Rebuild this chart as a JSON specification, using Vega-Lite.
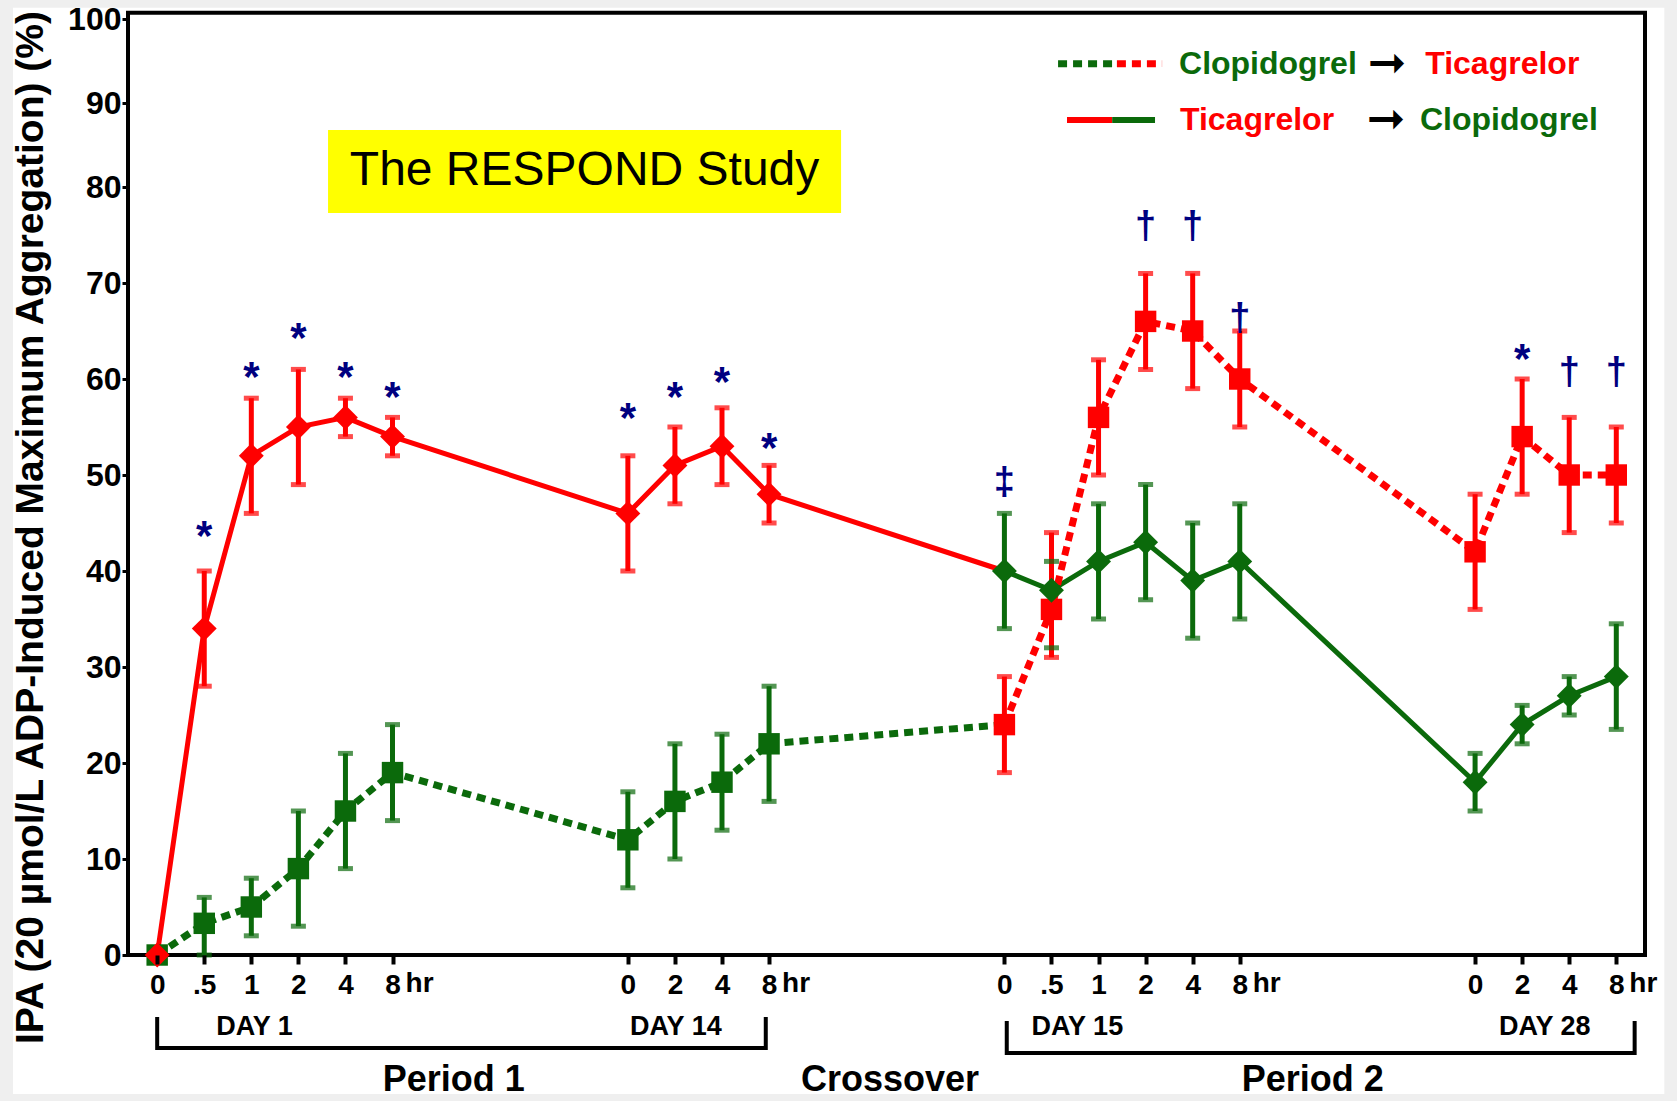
{
  "$schema": "https://vega.github.io/schema/vega-lite/v6.json",
  "width": 1517,
  "height": 942,
  "autosize": {"type": "none"},
  "padding": {"left": 128, "top": 13, "right": 32, "bottom": 146},
  "background": "#efefef",
  "config": {
    "view": {"stroke": null},
    "font": "Liberation Sans",
    "axis": {"grid": false, "domain": false, "tickColor": "black", "labelColor": "black", "labelFontWeight": "bold", "titleColor": "black", "labelFont": "Liberation Sans", "titleFont": "Liberation Sans"}
  },
  "datasets": {
    "ipa": [
      {"regimen": "Ticagrelor → Clopidogrel", "drug": "Ticagrelor", "day": 1, "hour": 0, "idx": 0, "val": 0},
      {"regimen": "Ticagrelor → Clopidogrel", "drug": "Ticagrelor", "day": 1, "hour": 0.5, "idx": 1, "val": 34, "lo": 28, "hi": 40},
      {"regimen": "Ticagrelor → Clopidogrel", "drug": "Ticagrelor", "day": 1, "hour": 1, "idx": 2, "val": 52, "lo": 46, "hi": 58},
      {"regimen": "Ticagrelor → Clopidogrel", "drug": "Ticagrelor", "day": 1, "hour": 2, "idx": 3, "val": 55, "lo": 49, "hi": 61},
      {"regimen": "Ticagrelor → Clopidogrel", "drug": "Ticagrelor", "day": 1, "hour": 4, "idx": 4, "val": 56, "lo": 54, "hi": 58},
      {"regimen": "Ticagrelor → Clopidogrel", "drug": "Ticagrelor", "day": 1, "hour": 8, "idx": 5, "val": 54, "lo": 52, "hi": 56},
      {"regimen": "Ticagrelor → Clopidogrel", "drug": "Ticagrelor", "day": 14, "hour": 0, "idx": 10, "val": 46, "lo": 40, "hi": 52},
      {"regimen": "Ticagrelor → Clopidogrel", "drug": "Ticagrelor", "day": 14, "hour": 2, "idx": 11, "val": 51, "lo": 47, "hi": 55},
      {"regimen": "Ticagrelor → Clopidogrel", "drug": "Ticagrelor", "day": 14, "hour": 4, "idx": 12, "val": 53, "lo": 49, "hi": 57},
      {"regimen": "Ticagrelor → Clopidogrel", "drug": "Ticagrelor", "day": 14, "hour": 8, "idx": 13, "val": 48, "lo": 45, "hi": 51},
      {"regimen": "Ticagrelor → Clopidogrel", "drug": "Clopidogrel", "day": 15, "hour": 0, "idx": 18, "val": 40, "lo": 34, "hi": 46},
      {"regimen": "Ticagrelor → Clopidogrel", "drug": "Clopidogrel", "day": 15, "hour": 0.5, "idx": 19, "val": 38, "lo": 32, "hi": 41},
      {"regimen": "Ticagrelor → Clopidogrel", "drug": "Clopidogrel", "day": 15, "hour": 1, "idx": 20, "val": 41, "lo": 35, "hi": 47},
      {"regimen": "Ticagrelor → Clopidogrel", "drug": "Clopidogrel", "day": 15, "hour": 2, "idx": 21, "val": 43, "lo": 37, "hi": 49},
      {"regimen": "Ticagrelor → Clopidogrel", "drug": "Clopidogrel", "day": 15, "hour": 4, "idx": 22, "val": 39, "lo": 33, "hi": 45},
      {"regimen": "Ticagrelor → Clopidogrel", "drug": "Clopidogrel", "day": 15, "hour": 8, "idx": 23, "val": 41, "lo": 35, "hi": 47},
      {"regimen": "Ticagrelor → Clopidogrel", "drug": "Clopidogrel", "day": 28, "hour": 0, "idx": 28, "val": 18, "lo": 15, "hi": 21},
      {"regimen": "Ticagrelor → Clopidogrel", "drug": "Clopidogrel", "day": 28, "hour": 2, "idx": 29, "val": 24, "lo": 22, "hi": 26},
      {"regimen": "Ticagrelor → Clopidogrel", "drug": "Clopidogrel", "day": 28, "hour": 4, "idx": 30, "val": 27, "lo": 25, "hi": 29},
      {"regimen": "Ticagrelor → Clopidogrel", "drug": "Clopidogrel", "day": 28, "hour": 8, "idx": 31, "val": 29, "lo": 23.5, "hi": 34.5},
      {"regimen": "Clopidogrel → Ticagrelor", "drug": "Clopidogrel", "day": 1, "hour": 0, "idx": 0, "val": 0},
      {"regimen": "Clopidogrel → Ticagrelor", "drug": "Clopidogrel", "day": 1, "hour": 0.5, "idx": 1, "val": 3.3, "lo": 0, "hi": 6},
      {"regimen": "Clopidogrel → Ticagrelor", "drug": "Clopidogrel", "day": 1, "hour": 1, "idx": 2, "val": 5, "lo": 2, "hi": 8},
      {"regimen": "Clopidogrel → Ticagrelor", "drug": "Clopidogrel", "day": 1, "hour": 2, "idx": 3, "val": 9, "lo": 3, "hi": 15},
      {"regimen": "Clopidogrel → Ticagrelor", "drug": "Clopidogrel", "day": 1, "hour": 4, "idx": 4, "val": 15, "lo": 9, "hi": 21},
      {"regimen": "Clopidogrel → Ticagrelor", "drug": "Clopidogrel", "day": 1, "hour": 8, "idx": 5, "val": 19, "lo": 14, "hi": 24},
      {"regimen": "Clopidogrel → Ticagrelor", "drug": "Clopidogrel", "day": 14, "hour": 0, "idx": 10, "val": 12, "lo": 7, "hi": 17},
      {"regimen": "Clopidogrel → Ticagrelor", "drug": "Clopidogrel", "day": 14, "hour": 2, "idx": 11, "val": 16, "lo": 10, "hi": 22},
      {"regimen": "Clopidogrel → Ticagrelor", "drug": "Clopidogrel", "day": 14, "hour": 4, "idx": 12, "val": 18, "lo": 13, "hi": 23},
      {"regimen": "Clopidogrel → Ticagrelor", "drug": "Clopidogrel", "day": 14, "hour": 8, "idx": 13, "val": 22, "lo": 16, "hi": 28},
      {"regimen": "Clopidogrel → Ticagrelor", "drug": "Ticagrelor", "day": 15, "hour": 0, "idx": 18, "val": 24, "lo": 19, "hi": 29},
      {"regimen": "Clopidogrel → Ticagrelor", "drug": "Ticagrelor", "day": 15, "hour": 0.5, "idx": 19, "val": 36, "lo": 31, "hi": 44},
      {"regimen": "Clopidogrel → Ticagrelor", "drug": "Ticagrelor", "day": 15, "hour": 1, "idx": 20, "val": 56, "lo": 50, "hi": 62},
      {"regimen": "Clopidogrel → Ticagrelor", "drug": "Ticagrelor", "day": 15, "hour": 2, "idx": 21, "val": 66, "lo": 61, "hi": 71},
      {"regimen": "Clopidogrel → Ticagrelor", "drug": "Ticagrelor", "day": 15, "hour": 4, "idx": 22, "val": 65, "lo": 59, "hi": 71},
      {"regimen": "Clopidogrel → Ticagrelor", "drug": "Ticagrelor", "day": 15, "hour": 8, "idx": 23, "val": 60, "lo": 55, "hi": 65},
      {"regimen": "Clopidogrel → Ticagrelor", "drug": "Ticagrelor", "day": 28, "hour": 0, "idx": 28, "val": 42, "lo": 36, "hi": 48},
      {"regimen": "Clopidogrel → Ticagrelor", "drug": "Ticagrelor", "day": 28, "hour": 2, "idx": 29, "val": 54, "lo": 48, "hi": 60},
      {"regimen": "Clopidogrel → Ticagrelor", "drug": "Ticagrelor", "day": 28, "hour": 4, "idx": 30, "val": 50, "lo": 44, "hi": 56},
      {"regimen": "Clopidogrel → Ticagrelor", "drug": "Ticagrelor", "day": 28, "hour": 8, "idx": 31, "val": 50, "lo": 45, "hi": 55}
    ],
    "signif": [
      {"idx": 1, "val": 44.7, "sym": "*"},
      {"idx": 2, "val": 61.3, "sym": "*"},
      {"idx": 3, "val": 65.3, "sym": "*"},
      {"idx": 4, "val": 61.3, "sym": "*"},
      {"idx": 5, "val": 59.2, "sym": "*"},
      {"idx": 10, "val": 57, "sym": "*"},
      {"idx": 11, "val": 59.2, "sym": "*"},
      {"idx": 12, "val": 60.7, "sym": "*"},
      {"idx": 13, "val": 53.9, "sym": "*"},
      {"idx": 18, "val": 49.2, "sym": "‡"},
      {"idx": 21, "val": 75.8, "sym": "†"},
      {"idx": 22, "val": 75.8, "sym": "†"},
      {"idx": 23, "val": 66.3, "sym": "†"},
      {"idx": 29, "val": 63.1, "sym": "*"},
      {"idx": 30, "val": 60.6, "sym": "†"},
      {"idx": 31, "val": 60.6, "sym": "†"}
    ],
    "keyLines": [
      {"regimen": "Clopidogrel → Ticagrelor", "drug": "Clopidogrel", "idx": 19.14, "idx2": 20.39, "val": 94.67},
      {"regimen": "Clopidogrel → Ticagrelor", "drug": "Ticagrelor", "idx": 20.39, "idx2": 21.35, "val": 94.67},
      {"regimen": "Ticagrelor → Clopidogrel", "drug": "Ticagrelor", "idx": 19.33, "idx2": 20.29, "val": 87.99},
      {"regimen": "Ticagrelor → Clopidogrel", "drug": "Clopidogrel", "idx": 20.29, "idx2": 21.2, "val": 87.99}
    ],
    "keyText": [
      {"label": "Clopidogrel", "drug": "Clopidogrel", "idx": 21.71, "val": 94.67},
      {"label": "Ticagrelor", "drug": "Ticagrelor", "idx": 26.94, "val": 94.67},
      {"label": "Ticagrelor", "drug": "Ticagrelor", "idx": 21.73, "val": 87.99},
      {"label": "Clopidogrel", "drug": "Clopidogrel", "idx": 26.83, "val": 87.99}
    ],
    "keyArrows": [
      {"label": "➞", "idx": 25.72, "val": 94.67},
      {"label": "➞", "idx": 25.7, "val": 87.99}
    ],
    "hourUnit": [
      {"idx": 5, "val": -3.02, "label": "hr"},
      {"idx": 13, "val": -3.02, "label": "hr"},
      {"idx": 23, "val": -3.02, "label": "hr"},
      {"idx": 31, "val": -3.02, "label": "hr"}
    ],
    "days": [
      {"idx": 2.07, "val": -7.5, "label": "DAY 1"},
      {"idx": 11.02, "val": -7.5, "label": "DAY 14"},
      {"idx": 19.55, "val": -7.5, "label": "DAY 15"},
      {"idx": 29.48, "val": -7.5, "label": "DAY 28"}
    ],
    "periods": [
      {"idx": 6.3, "val": -13.02, "label": "Period 1"},
      {"idx": 15.57, "val": -13.02, "label": "Crossover"},
      {"idx": 24.55, "val": -13.02, "label": "Period 2"}
    ],
    "brackets": [
      {"bracket": "Period 1", "ord": 1, "idx": 0, "val": -6.67},
      {"bracket": "Period 1", "ord": 2, "idx": 0, "val": -9.69},
      {"bracket": "Period 1", "ord": 3, "idx": 12.93, "val": -9.69},
      {"bracket": "Period 1", "ord": 4, "idx": 12.93, "val": -6.67},
      {"bracket": "Period 2", "ord": 1, "idx": 18.05, "val": -7.08},
      {"bracket": "Period 2", "ord": 2, "idx": 18.05, "val": -10.21},
      {"bracket": "Period 2", "ord": 3, "idx": 31.39, "val": -10.21},
      {"bracket": "Period 2", "ord": 4, "idx": 31.39, "val": -7.08}
    ]
  },
  "encoding": {
    "x": {
      "field": "idx",
      "type": "quantitative",
      "scale": {"domain": [-0.62, 31.61], "nice": false, "zero": false},
      "axis": {
        "title": null,
        "zindex": 2,
        "values": [0, 1, 2, 3, 4, 5, 10, 11, 12, 13, 18, 19, 20, 21, 22, 23, 28, 29, 30, 31],
        "labelExpr": "['0','.5','1','2','4','8','','','','','0','2','4','8','','','','','0','.5','1','2','4','8','','','','','0','2','4','8'][datum.value]",
        "labelFontSize": 28,
        "labelPadding": 7,
        "tickSize": 9,
        "tickWidth": 4,
        "labelFlush": false,
        "labelOverlap": false
      }
    },
    "y": {
      "field": "val",
      "type": "quantitative",
      "scale": {"domain": [0, 80, 100], "range": [942, 174, 6], "nice": false, "zero": false},
      "axis": {
        "title": "IPA (20 µmol/L ADP-Induced Maximum Aggregation) (%)",
        "zindex": 2,
        "orient": "left",
        "titleFontSize": 39,
        "titleFontWeight": "bold",
        "titleX": -98,
        "titleY": 514,
        "titleAngle": -90,
        "titleAlign": "center",
        "titleBaseline": "middle",
        "values": [0, 10, 20, 30, 40, 50, 60, 70, 80, 90, 100],
        "labelFontSize": 32,
        "labelPadding": 1,
        "tickSize": 6,
        "tickWidth": 3,
        "labelFlush": false,
        "labelOverlap": false
      }
    }
  },
  "layer": [
    {
      "data": {"values": [{"idx": -3.064, "idx2": 32.02, "val": 101.35, "val2": -14.48}]},
      "mark": {"type": "rect", "fill": "white"},
      "encoding": {"x2": {"field": "idx2"}, "y2": {"field": "val2"}}
    },
    {
      "data": {"values": [{"idx": -0.62, "idx2": 31.61, "val": 100.75, "val2": 0}]},
      "mark": {"type": "rect", "fill": null, "stroke": "black", "strokeWidth": 4},
      "encoding": {"x2": {"field": "idx2"}, "y2": {"field": "val2"}}
    },
    {
      "data": {"values": [{"idx": 3.63, "idx2": 14.53, "val": 86.8, "val2": 77.29}]},
      "mark": {"type": "rect", "fill": "#ffff00"},
      "encoding": {"x2": {"field": "idx2"}, "y2": {"field": "val2"}}
    },
    {
      "data": {"values": [{"idx": 9.08, "val": 81.85, "label": "The RESPOND Study"}]},
      "mark": {"type": "text", "fontSize": 48, "color": "black", "align": "center", "baseline": "middle"},
      "encoding": {"text": {"field": "label"}}
    },
    {
      "data": {"name": "ipa"},
      "transform": [{"filter": "datum.regimen === 'Ticagrelor → Clopidogrel' && datum.idx <= 18"}],
      "mark": {"type": "line", "color": "#ff0000", "strokeWidth": 5}
    },
    {
      "data": {"name": "ipa"},
      "transform": [{"filter": "datum.regimen === 'Ticagrelor → Clopidogrel' && datum.idx >= 18"}],
      "mark": {"type": "line", "color": "#0b6a0b", "strokeWidth": 5}
    },
    {
      "data": {"name": "ipa"},
      "transform": [{"filter": "datum.regimen === 'Clopidogrel → Ticagrelor' && datum.idx <= 18"}],
      "mark": {"type": "line", "color": "#0b6a0b", "strokeWidth": 7, "strokeDash": [9, 6], "strokeCap": "butt"}
    },
    {
      "data": {"name": "ipa"},
      "transform": [{"filter": "datum.regimen === 'Clopidogrel → Ticagrelor' && datum.idx >= 18"}],
      "mark": {"type": "line", "color": "#ff0000", "strokeWidth": 7, "strokeDash": [9, 6], "strokeCap": "butt"}
    },
    {
      "data": {"name": "ipa"},
      "transform": [{"filter": "isValid(datum.lo)"}],
      "mark": {"type": "rule", "strokeWidth": 5},
      "encoding": {
        "y": {"field": "lo", "type": "quantitative"},
        "y2": {"field": "hi"},
        "color": {"field": "drug", "type": "nominal", "scale": {"domain": ["Clopidogrel", "Ticagrelor"], "range": ["#0b6a0b", "#ff0000"]}, "legend": null}
      }
    },
    {
      "data": {"name": "ipa"},
      "transform": [{"filter": "isValid(datum.lo)"}],
      "mark": {"type": "tick", "orient": "horizontal", "size": 15, "thickness": 5},
      "encoding": {
        "y": {"field": "lo", "type": "quantitative"},
        "color": {"field": "drug", "type": "nominal", "scale": {"domain": ["Clopidogrel", "Ticagrelor"], "range": ["#0b6a0b", "#ff0000"]}, "legend": null}
      }
    },
    {
      "data": {"name": "ipa"},
      "transform": [{"filter": "isValid(datum.hi)"}],
      "mark": {"type": "tick", "orient": "horizontal", "size": 15, "thickness": 5},
      "encoding": {
        "y": {"field": "hi", "type": "quantitative"},
        "color": {"field": "drug", "type": "nominal", "scale": {"domain": ["Clopidogrel", "Ticagrelor"], "range": ["#0b6a0b", "#ff0000"]}, "legend": null}
      }
    },
    {
      "data": {"name": "ipa"},
      "transform": [{"filter": "datum.regimen === 'Clopidogrel → Ticagrelor'"}],
      "mark": {"type": "point", "shape": "square", "filled": true, "opacity": 1, "size": 460},
      "encoding": {
        "color": {"field": "drug", "type": "nominal", "scale": {"domain": ["Clopidogrel", "Ticagrelor"], "range": ["#0b6a0b", "#ff0000"]}, "legend": null}
      }
    },
    {
      "data": {"name": "ipa"},
      "transform": [{"filter": "datum.regimen === 'Ticagrelor → Clopidogrel'"}],
      "mark": {"type": "point", "shape": "diamond", "filled": true, "opacity": 1, "size": 620},
      "encoding": {
        "color": {"field": "drug", "type": "nominal", "scale": {"domain": ["Clopidogrel", "Ticagrelor"], "range": ["#0b6a0b", "#ff0000"]}, "legend": null}
      }
    },
    {
      "data": {"name": "signif"},
      "transform": [{"filter": "datum.sym === '*'"}],
      "mark": {"type": "text", "fontSize": 42, "fontWeight": "bold", "color": "#000080", "align": "center", "baseline": "alphabetic", "dy": 24},
      "encoding": {"text": {"field": "sym"}}
    },
    {
      "data": {"name": "signif"},
      "transform": [{"filter": "datum.sym !== '*'"}],
      "mark": {"type": "text", "fontSize": 38, "fontWeight": "bold", "color": "#000080", "align": "center", "baseline": "alphabetic", "dy": 11},
      "encoding": {"text": {"field": "sym"}}
    },
    {
      "data": {"name": "keyLines"},
      "transform": [{"filter": "datum.regimen === 'Clopidogrel → Ticagrelor'"}],
      "mark": {"type": "rule", "strokeWidth": 7, "strokeDash": [9, 6], "strokeCap": "butt"},
      "encoding": {
        "x2": {"field": "idx2"},
        "color": {"field": "drug", "type": "nominal", "scale": {"domain": ["Clopidogrel", "Ticagrelor"], "range": ["#0b6a0b", "#ff0000"]}, "legend": null}
      }
    },
    {
      "data": {"name": "keyLines"},
      "transform": [{"filter": "datum.regimen === 'Ticagrelor → Clopidogrel'"}],
      "mark": {"type": "rule", "strokeWidth": 6, "strokeCap": "butt"},
      "encoding": {
        "x2": {"field": "idx2"},
        "color": {"field": "drug", "type": "nominal", "scale": {"domain": ["Clopidogrel", "Ticagrelor"], "range": ["#0b6a0b", "#ff0000"]}, "legend": null}
      }
    },
    {
      "data": {"name": "keyText"},
      "mark": {"type": "text", "fontSize": 32, "fontWeight": "bold", "align": "left", "baseline": "middle"},
      "encoding": {
        "text": {"field": "label"},
        "color": {"field": "drug", "type": "nominal", "scale": {"domain": ["Clopidogrel", "Ticagrelor"], "range": ["#0b6a0b", "#ff0000"]}, "legend": null}
      }
    },
    {
      "data": {"name": "keyArrows"},
      "mark": {"type": "text", "font": "DejaVu Sans", "fontSize": 46, "color": "black", "align": "left", "baseline": "middle"},
      "encoding": {"text": {"field": "label"}}
    },
    {
      "data": {"name": "hourUnit"},
      "mark": {"type": "text", "fontSize": 28, "fontWeight": "bold", "color": "black", "align": "left", "baseline": "middle", "dx": 13},
      "encoding": {"text": {"field": "label"}}
    },
    {
      "data": {"name": "days"},
      "mark": {"type": "text", "fontSize": 27, "fontWeight": "bold", "color": "black", "align": "center", "baseline": "middle"},
      "encoding": {"text": {"field": "label"}}
    },
    {
      "data": {"name": "brackets"},
      "mark": {"type": "line", "color": "black", "strokeWidth": 4, "strokeJoin": "miter", "strokeCap": "square"},
      "encoding": {"detail": {"field": "bracket"}, "order": {"field": "ord"}}
    },
    {
      "data": {"name": "periods"},
      "mark": {"type": "text", "fontSize": 36, "fontWeight": "bold", "color": "black", "align": "center", "baseline": "middle"},
      "encoding": {"text": {"field": "label"}}
    }
  ]
}
